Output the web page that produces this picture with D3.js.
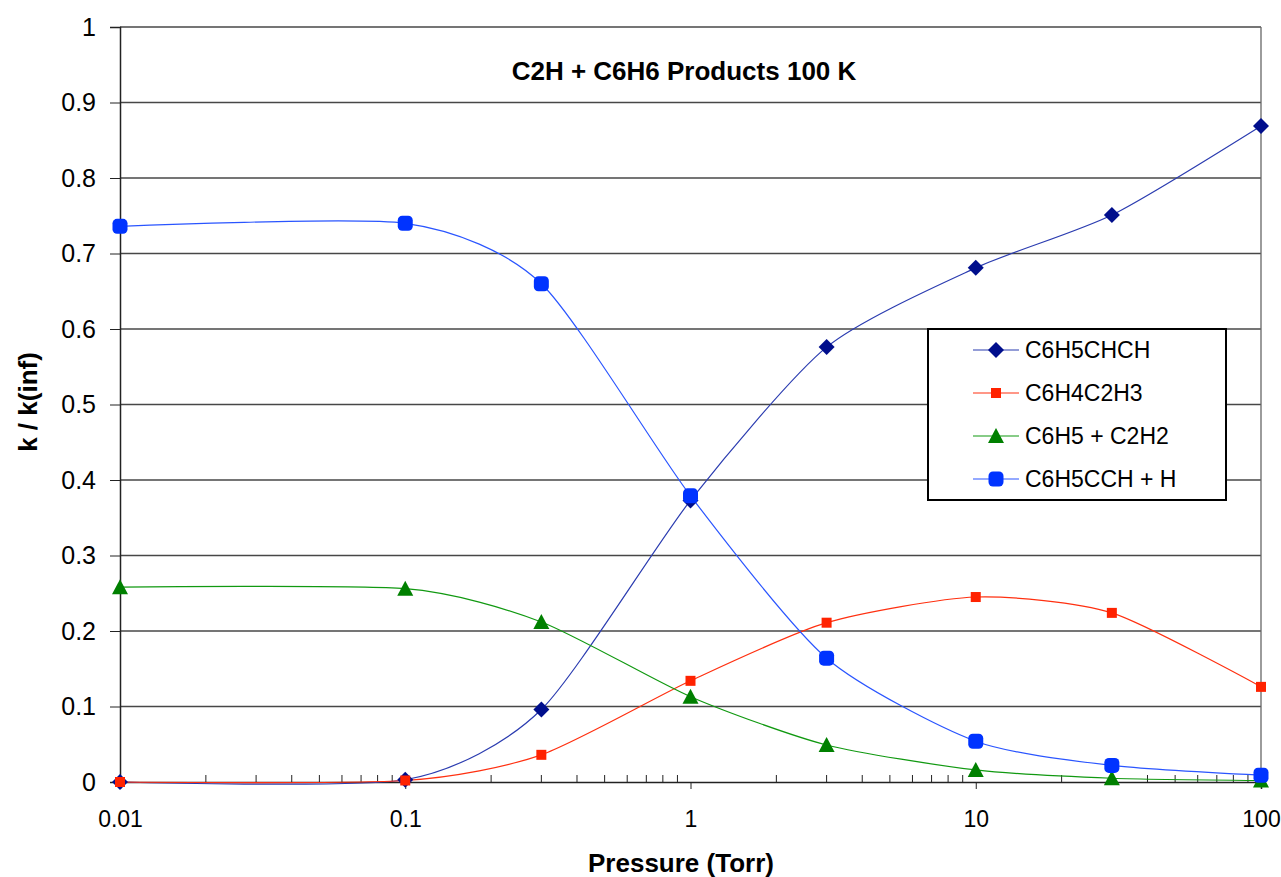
<!DOCTYPE html>
<html>
  <body style="margin:0;background:#fff">
    <style>
      text { font-family: "Liberation Sans", Arial, sans-serif; }
    </style>
    <script src="https://d3js.org/d3.v7.min.js"></script>
    <script type="text/javascript">
      const width = 1281;
      const height = 877;

      const pressures = [0.01, 0.1, 0.3, 1, 3, 10, 30, 100];
      const seriesNames = ['C6H5CHCH', 'C6H4C2H3', 'C6H5 + C2H2', 'C6H5CCH + H'];
      const chchValues = [0.000, 0.003, 0.096, 0.373, 0.576, 0.681, 0.751, 0.869];
      const c2h3Values = [0.000, 0.002, 0.036, 0.134, 0.211, 0.245, 0.224, 0.126];
      const c2h2Values = [0.258, 0.256, 0.212, 0.113, 0.049, 0.016, 0.005, 0.002];
      const cchValues = [0.736, 0.740, 0.660, 0.379, 0.164, 0.054, 0.022, 0.009];
      const xTickLabels = ['0.01', '0.1', '1', '10', '100'];
      const yTickLabels = ['0', '0.1', '0.2', '0.3', '0.4', '0.5', '0.6', '0.7', '0.8', '0.9', '1'];

      const plotLeft = 120, plotRight = 1261, plotTop = 27, plotBottom = 782;

      const svg = d3.select('body')
        .append('svg')
        .attr('width', width)
        .attr('height', height);

      const x = d3.scaleLog().domain([0.01, 100]).range([plotLeft, plotRight]);
      const y = d3.scaleLinear().domain([0, 1]).range([plotBottom, plotTop]);

      // gridlines
      svg.append('g')
        .selectAll('line')
        .data(yTickLabels.map(Number).filter(d => d > 0))
        .enter()
        .append('line')
        .attr('x1', plotLeft).attr('x2', plotRight)
        .attr('y1', d => y(d)).attr('y2', d => y(d))
        .attr('stroke', '#474747').attr('stroke-width', 1.3);

      // right border
      svg.append('line')
        .attr('x1', plotRight).attr('x2', plotRight).attr('y1', plotTop).attr('y2', plotBottom)
        .attr('stroke', '#666').attr('stroke-width', 1.3);

      // y axis
      const yAxis = d3.axisLeft(y)
        .tickValues(yTickLabels.map(Number))
        .tickFormat((d, i) => yTickLabels[i])
        .tickSize(10).tickPadding(14);
      const gy = svg.append('g').attr('transform', `translate(${plotLeft},0)`).call(yAxis);
      gy.select('.domain').attr('stroke', '#222').attr('stroke-width', 1.5);
      gy.selectAll('line').attr('stroke', '#222');
      gy.selectAll('text').attr('font-size', 25).attr('fill', '#000');

      // x axis: major ticks down, minor ticks up
      const xAxis = d3.axisBottom(x)
        .tickValues(xTickLabels.map(Number))
        .tickFormat((d, i) => xTickLabels[i])
        .tickSize(7).tickPadding(22);
      const gx = svg.append('g').attr('transform', `translate(0,${plotBottom})`).call(xAxis);
      gx.select('.domain').attr('stroke', '#222').attr('stroke-width', 1.5);
      gx.selectAll('line').attr('stroke', '#222');
      gx.selectAll('text').attr('font-size', 23).attr('fill', '#000');

      const majorValues = xTickLabels.map(Number);
      const minorTicks = x.ticks().filter(d => !majorValues.some(m => Math.abs(m - d) < 1e-9));
      svg.append('g')
        .selectAll('line')
        .data(minorTicks)
        .enter()
        .append('line')
        .attr('x1', d => x(d)).attr('x2', d => x(d))
        .attr('y1', plotBottom).attr('y2', plotBottom - 7)
        .attr('stroke', '#222');

      // series
      const series = [
        { name: seriesNames[0], values: chchValues, line: '#2b3cb0', fill: '#000e8c', shape: 'diamond' },
        { name: seriesNames[1], values: c2h3Values, line: '#ff3010', fill: '#ff2200', shape: 'square' },
        { name: seriesNames[2], values: c2h2Values, line: '#119911', fill: '#008000', shape: 'triangle' },
        { name: seriesNames[3], values: cchValues, line: '#2a55ff', fill: '#0033ff', shape: 'circle' },
      ];

      const line = d3.line()
        .x(d => x(d[0]))
        .y(d => y(d[1]))
        .curve(d3.curveCardinal.tension(0.3));

      function marker(g, shape, fill) {
        if (shape === 'diamond') {
          g.append('path').attr('d', 'M0,-8L8,0L0,8L-8,0Z').attr('fill', fill);
        } else if (shape === 'square') {
          g.append('rect').attr('x', -5).attr('y', -5).attr('width', 10).attr('height', 10).attr('fill', fill);
        } else if (shape === 'triangle') {
          g.append('path').attr('d', 'M0,-8L8,7L-8,7Z').attr('fill', fill);
        } else {
          g.append('rect').attr('x', -7.5).attr('y', -7.5).attr('width', 15).attr('height', 15)
            .attr('rx', 4.5).attr('fill', fill);
        }
      }

      series.forEach(s => {
        const pts = pressures.map((p, i) => [p, s.values[i]]);
        svg.append('path')
          .attr('d', line(pts))
          .attr('fill', 'none')
          .attr('stroke', s.line)
          .attr('stroke-width', 1.2);
      });

      series.forEach(s => {
        svg.append('g')
          .selectAll('g')
          .data(pressures.map((p, i) => [p, s.values[i]]))
          .enter()
          .append('g')
          .attr('transform', d => `translate(${x(d[0])},${y(d[1])})`)
          .each(function () { marker(d3.select(this), s.shape, s.fill); });
      });

      // legend
      const legend = svg.append('g').attr('transform', 'translate(928,329)');
      legend.append('rect')
        .attr('width', 298).attr('height', 171)
        .attr('fill', '#fff').attr('stroke', '#000').attr('stroke-width', 2);
      series.forEach((s, i) => {
        const row = legend.append('g').attr('transform', `translate(0,${21 + i * 43})`);
        row.append('line').attr('x1', 45).attr('x2', 91).attr('stroke', s.line).attr('stroke-width', 1.2);
        const m = row.append('g').attr('transform', 'translate(68,0)');
        marker(m, s.shape, s.fill);
        row.append('text').attr('x', 97).attr('y', 8).attr('font-size', 23).text(s.name);
      });

      // titles
      svg.append('text')
        .attr('x', 684).attr('y', 80)
        .attr('text-anchor', 'middle')
        .attr('font-size', 26).attr('font-weight', 'bold')
        .text('C2H + C6H6 Products 100 K');

      svg.append('text')
        .attr('x', 681).attr('y', 872)
        .attr('text-anchor', 'middle')
        .attr('font-size', 26).attr('font-weight', 'bold')
        .text('Pressure (Torr)');

      svg.append('text')
        .attr('transform', 'translate(37,402) rotate(-90)')
        .attr('text-anchor', 'middle')
        .attr('font-size', 26).attr('font-weight', 'bold')
        .text('k  /  k(inf)');
    </script>
  </body>
</html>
